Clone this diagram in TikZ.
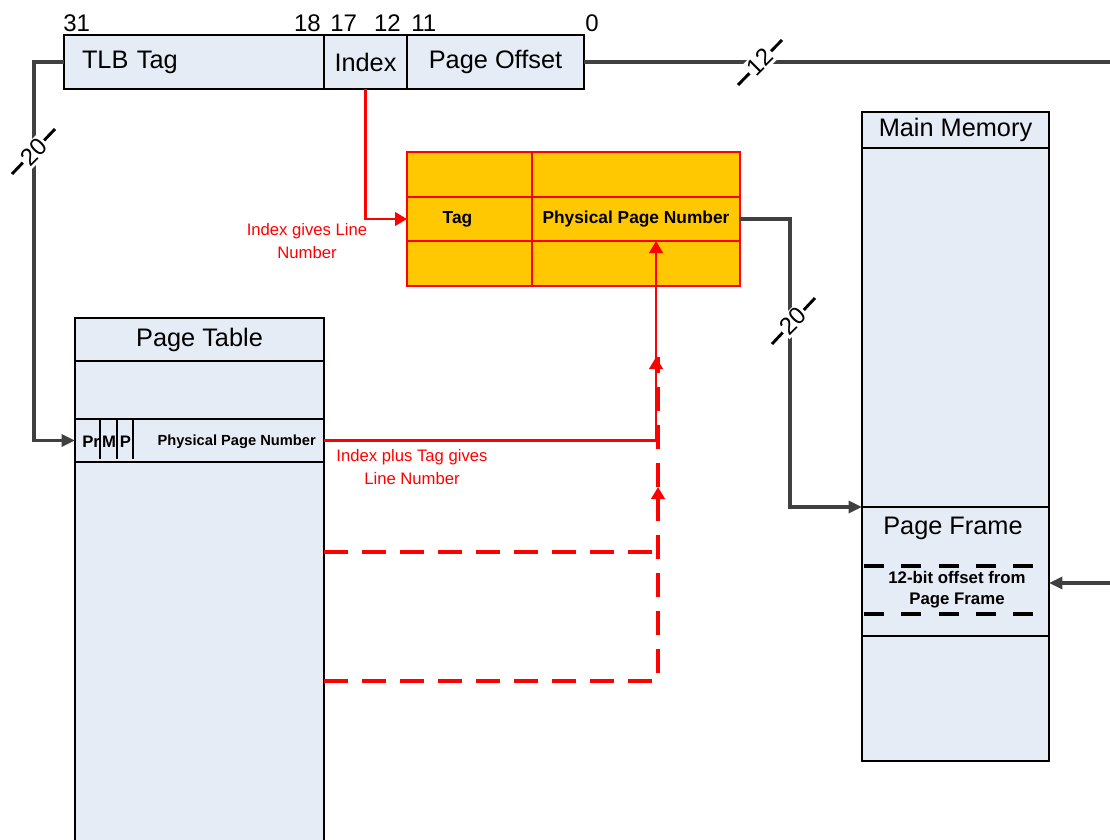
\documentclass[tikz,border=0pt]{standalone}
\usepackage{fontspec}
\setmainfont{Liberation Sans}
\usetikzlibrary{arrows.meta,calc}
\definecolor{boxblue}{RGB}{230,236,246}
\definecolor{gold}{RGB}{255,200,0}
\definecolor{conngray}{RGB}{64,64,64}
\begin{document}
\begin{tikzpicture}[x=0.75pt,y=-0.75pt,
  wh/.style 2 args={minimum width=#1*0.75pt, minimum height=#2*0.75pt},
  cell/.style={draw=black, fill=boxblue, line width=2.1pt, inner sep=0pt, outer sep=0pt, font=\fontsize{19}{22}\selectfont},
  ccell/.style={draw=red, fill=gold, line width=2.1pt, inner sep=0pt, outer sep=0pt, font=\bfseries\fontsize{13}{15}\selectfont},
  bit/.style={inner sep=0pt, font=\fontsize{18}{20}\selectfont},
  small/.style={inner sep=0pt, font=\bfseries\fontsize{11}{13}\selectfont},
  flag/.style={inner sep=0pt, font=\bfseries\fontsize{12.5}{14}\selectfont},
  bigtxt/.style={inner sep=0pt, font=\fontsize{19}{22}\selectfont},
  offtxt/.style={inner sep=0pt, outer sep=0pt, align=center, font=\bfseries\fontsize{12.6}{16}\selectfont},
  redtxt/.style={inner sep=0pt, align=center, text=red, font=\fontsize{12.5}{16.8}\selectfont},
  tipk/.style={-{Triangle[length=10pt,width=9pt]}},
  tipr/.style={-{Triangle[length=9pt,width=10pt]}},
  conn/.style={draw=conngray, line width=2.4pt},
  redline/.style={draw=red, line width=2.2pt},
  reddash/.style={draw=red, line width=3pt, dash pattern=on 18pt off 10.5pt},
  blackdash/.style={draw=black, line width=3pt, dash pattern=on 15pt off 13pt},
  slash/.style={draw=black, line width=2.2pt},
  marker/.style={fill=white, rotate=45, inner sep=1.5pt, font=\fontsize{18}{20}\selectfont}
]
\useasboundingbox (0,0) rectangle (1110,839);
\clip (0,0) rectangle (1110,839);

% virtual address fields
\node[cell, wh={260}{54}, text width=224*0.75pt, align=left] (tag) at (194,62) {TLB Tag};
\node[cell, wh={83}{54}] (idx) at (365.5,62) {Index};
\node[cell, wh={177}{54}] (off) at (495.5,62) {Page Offset};

% bit numbers
\node[bit, anchor=base west] (b31) at (63,31) {31};
\node[bit, anchor=base east] (b18) at (321,31) {18};
\node[bit, anchor=base west] (b17) at (330,31) {17};
\node[bit, anchor=base east] (b12) at (401,31) {12};
\node[bit, anchor=base west] (b11) at (411,31) {11};
\node[bit, anchor=base west] (b0) at (585,31) {0};

% page table
\node[cell, wh={249}{43}] (pthead) at (199.5,339.5) {Page Table};
\node[cell, wh={249}{58}] (ptrow) at (199.5,390) {};
\node[cell, wh={249}{43}] (ptentry) at (199.5,440.5) {};
\node[cell, wh={249}{420}] (ptrest) at (199.5,672) {};
\node[flag, anchor=west] (pr) at (82,442) {Pr};
\node[flag] (pmb) at (109,442) {M};
\node[flag] (ppb) at (125.5,442) {P};
\node[small, anchor=east] (pppn) at (316,442) {Physical Page Number};
\draw[line width=2.1pt] (100,419) -- (100,459);
\draw[line width=2.1pt] (117,419) -- (117,459);
\draw[line width=2.1pt] (133,419) -- (133,459);

% TLB cache
\node[ccell, wh={125}{45}] (c11) at (469.5,174.5) {};
\node[ccell, wh={208}{45}] (c12) at (636,174.5) {};
\node[ccell, wh={125}{44}] (ctag) at (469.5,219) {};
\node[ccell, wh={208}{44}] (cppn) at (636,219) {Physical Page Number};
\node[ccell, wh={125}{45}] (c31) at (469.5,263.5) {};
\node[ccell, wh={208}{45}] (c32) at (636,263.5) {};
\node[ccell, draw=none, fill=none] (ctagt) at (457.5,219) {Tag};

% main memory
\node[cell, wh={187}{36}] (mmhead) at (955.5,130) {Main Memory};
\node[cell, wh={187}{359}] (mmup) at (955.5,327.5) {};
\node[cell, wh={187}{129}] (mmframe) at (955.5,571.5) {};
\node[cell, wh={187}{125}] (mmlow) at (955.5,698.5) {};
\node[bigtxt] (pft) at (953,528) {Page Frame};
\node[offtxt, wh={187}{48}] (mmoff) at (957,590) {12-bit offset from\\Page Frame};
\draw[blackdash] (864,566) -- (1046,566);
\draw[blackdash] (864,614) -- (1046,614);

% dark connectors
\draw[conn, tipk] (tag.west) -- ++(-30,0) |- (ptentry.west);
\draw[slash] (12,174) -- (55,129);
\node[marker] (m1) at (34,152) {20};

\coordinate (rend) at (1110,62);
\draw[conn] (off.east) -- (rend);
\draw[slash] (738,85) -- (782,40);
\node[marker] (m2) at (760,62) {12};

\draw[conn, tipk] (cppn.east) -- ++(50,0) |- (mmframe.north west);
\draw[slash] (772,344) -- (815,298);
\node[marker] (m3) at (793,321) {20};

\coordinate (rin) at (1110,583);
\draw[conn, tipk] (rin) -- (rin -| mmframe.east);

% red connectors
\draw[redline, tipr] (idx.south) |- (ctag.west);
\coordinate (pj) at (656,440.5);
\coordinate (pm) at (656,357);
\coordinate (d1) at (324,552);
\coordinate (d2) at (324,681);
\coordinate (dv) at (658,487);
\draw[reddash] (d1) -- (d1 -| dv);
\draw[reddash, tipr] (d2) -| (dv);
\draw[reddash] (dv) -- (dv |- pm);
\draw[redline] (ptentry.east) -- (pj);
\draw[redline, tipr] (pj) -- (pj |- cppn.south);
\draw[redline, tipr] (pj) -- (pm);

\node[redtxt] (lab1) at (307,241) {Index gives Line\\Number};
\node[redtxt] (lab2) at (412,467) {Index plus Tag gives\\Line Number};
\end{tikzpicture}
\end{document}
